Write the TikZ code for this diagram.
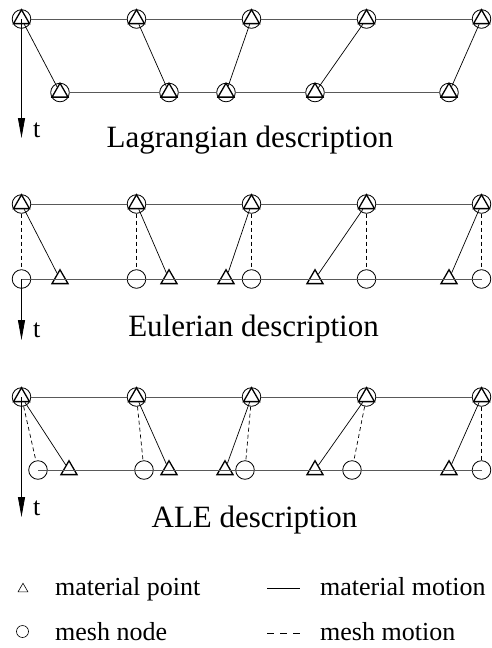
\documentclass[tikz,border=0pt]{standalone}
\usepackage{fontspec}
\setmainfont{Liberation Serif}
\usetikzlibrary{shapes.geometric,arrows.meta}
\begin{document}
\begin{tikzpicture}[x=1pt,y=-1pt,
  mnode/.style={circle, draw, line width=0.8pt, minimum size=18.6pt, inner sep=0pt},
  mpoint/.style={regular polygon, regular polygon sides=3, draw, line width=1.3pt, minimum size=18.5pt, inner sep=0pt},
  rowline/.style={draw=black!65, line width=1pt},
  matline/.style={line width=0.7pt},
  meshline/.style={line width=0.7pt, dash pattern=on 4pt off 3pt},
  taxis/.style={line width=0.8pt, -{Triangle[length=20pt,width=7pt]}},
  lbl/.style={font=\fontsize{31}{31}\selectfont, anchor=base, inner sep=0pt},
  leg/.style={font=\fontsize{26}{26}\selectfont, anchor=base west, inner sep=0pt},
  legtri/.style={regular polygon, regular polygon sides=3, draw, line width=0.6pt, minimum size=11.5pt, inner sep=0pt},
  legcirc/.style={circle, draw, line width=0.6pt, minimum size=12pt, inner sep=0pt}
]
\useasboundingbox (0,0) rectangle (491,648);

% ---------------- Lagrangian ----------------
\foreach \i/\x in {1/21.5,2/136.5,3/251.5,4/366.5,5/481.5} {
  \node[mnode] (LTc\i) at (\x,19) {};
  \node[mpoint] (LTt\i) at (\x,19) {};
}
\foreach \i/\x in {1/60,2/169,3/226,4/315,5/449} {
  \node[mnode] (LBc\i) at (\x,92.5) {};
  \node[mpoint] (LBt\i) at (\x,92.5) {};
}
\draw[rowline] (LTc1) -- (LTc2) -- (LTc3) -- (LTc4) -- (LTc5);
\draw[rowline] (LBc1) -- (LBc2) -- (LBc3) -- (LBc4) -- (LBc5);
\foreach \i in {1,...,5} \draw[matline] (LTt\i) -- (LBt\i);
\coordinate (Laxis) at (21.5,138);
\draw[taxis] (LTc1.center) -- (Laxis);
\node[leg] (Lt) at (33,137) {t};
\node[lbl] (Llabel) at (250,147) {Lagrangian description};

% ---------------- Eulerian ----------------
\foreach \i/\x in {1/21.5,2/136.5,3/251.5,4/366.5,5/481.5} {
  \node[mnode] (ETc\i) at (\x,204) {};
  \node[mpoint] (ETt\i) at (\x,204) {};
  \node[mnode] (EM\i) at (\x,279) {};
}
\foreach \i/\x in {1/60,2/169,3/226,4/315,5/449} {
  \node[mpoint] (EP\i) at (\x,279) {};
}
\draw[rowline] (ETc1) -- (ETc2) -- (ETc3) -- (ETc4) -- (ETc5);
\draw[rowline] (EM1.center) -- (EM5.center);
\foreach \i in {1,...,5} {
  \draw[meshline] (ETc\i) -- (EM\i);
  \draw[matline] (ETt\i) -- (EP\i);
}
\coordinate (Eaxis) at (21.5,340);
\draw[taxis] (EM1.center) -- (Eaxis);
\node[leg] (Et) at (33,337) {t};
\node[lbl] (Elabel) at (253.5,336) {Eulerian description};

% ---------------- ALE ----------------
\foreach \i/\x in {1/21.5,2/136.5,3/251.5,4/366.5,5/481.5} {
  \node[mnode] (ATc\i) at (\x,397) {};
  \node[mpoint] (ATt\i) at (\x,397) {};
}
\foreach \i/\x in {1/38,2/144,3/245,4/352,5/481.5} {
  \node[mnode] (AM\i) at (\x,470) {};
}
\foreach \i/\x in {1/69,2/169,3/225,4/315,5/449} {
  \node[mpoint] (AP\i) at (\x,470) {};
}
\draw[rowline] (ATc1) -- (ATc2) -- (ATc3) -- (ATc4) -- (ATc5);
\draw[rowline] (AM1.center) -- (AM5.center);
\foreach \i in {1,...,5} {
  \draw[meshline] (ATc\i) -- (AM\i);
  \draw[matline] (ATt\i) -- (AP\i);
}
\coordinate (Aaxis) at (21.5,517);
\draw[taxis] (ATc1.center) -- (Aaxis);
\node[leg] (At) at (33,515) {t};
\node[lbl] (Alabel) at (254.5,527) {ALE description};

% ---------------- Legend ----------------
\node[legtri] (legT) at (23,589) {};
\node[leg] (legTtext) at (55,595) {material point};
\node[legcirc] (legC) at (22.5,631.5) {};
\node[leg] (legCtext) at (55,640) {mesh node};
\coordinate (lm1) at (267,588);
\coordinate (lm2) at (300,588);
\draw[line width=0.6pt] (lm1) -- (lm2);
\node[leg] (legMtext) at (320,595) {material motion};
\coordinate (ld1) at (267,633);
\coordinate (ld2) at (300,633);
\draw[line width=0.6pt, dash pattern=on 7pt off 6pt] (ld1) -- (ld2);
\node[leg] (legDtext) at (320,640) {mesh motion};
\end{tikzpicture}
\end{document}
